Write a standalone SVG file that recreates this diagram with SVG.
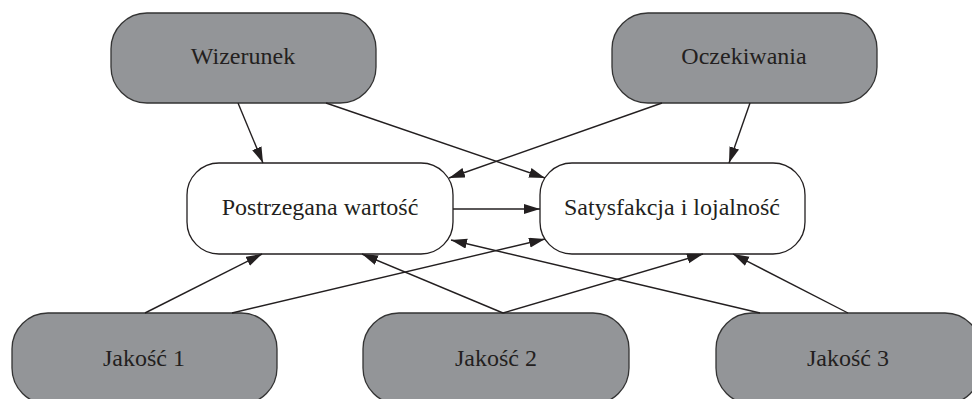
<svg xmlns="http://www.w3.org/2000/svg" width="972" height="399" viewBox="0 0 972 399">
<style>
.dark{fill:#939598;stroke:#333;stroke-width:1.3}
.light{fill:#fff;stroke:#231f20;stroke-width:1.3}
text{font-family:"Liberation Serif","Times New Roman",serif;font-size:24px;fill:#231f20;text-anchor:middle}
.c line{stroke:#231f20;stroke-width:1.4;marker-end:url(#ah)}
</style>
<defs>
<marker id="ah" markerUnits="userSpaceOnUse" markerWidth="17" markerHeight="11" refX="16" refY="5" orient="auto">
<path d="M0,0 L16,5 L0,10 Z" fill="#231f20"/>
</marker>
</defs>
<rect width="972" height="399" fill="#fff"/>
<g id="wizerunek"><rect class="dark" x="111" y="13" width="265" height="90" rx="36"/><text x="243" y="64">Wizerunek</text></g>
<g id="oczekiwania"><rect class="dark" x="612" y="13" width="265" height="90" rx="36"/><text x="744" y="64">Oczekiwania</text></g>
<g id="wartosc"><rect class="light" x="187" y="163" width="266" height="91" rx="32"/><text x="320" y="215">Postrzegana wartość</text></g>
<g id="satysfakcja"><rect class="light" x="540" y="163" width="265" height="91" rx="32"/><text x="672" y="215">Satysfakcja i lojalność</text></g>
<g id="jakosc1"><rect class="dark" x="12" y="313" width="265" height="91" rx="36"/><text x="144" y="366">Jakość 1</text></g>
<g id="jakosc2"><rect class="dark" x="363" y="313" width="266" height="91" rx="36"/><text x="496" y="366">Jakość 2</text></g>
<g id="jakosc3"><rect class="dark" x="716" y="313" width="265" height="91" rx="36"/><text x="848" y="366">Jakość 3</text></g>
<g id="connectors" class="c">
<line x1="238" y1="103" x2="263" y2="163"/>
<line x1="326" y1="103" x2="545" y2="178"/>
<line x1="662" y1="103" x2="449" y2="178"/>
<line x1="750" y1="103" x2="729" y2="163"/>
<line x1="453" y1="209" x2="540" y2="209"/>
<line x1="145" y1="313" x2="262" y2="254"/>
<line x1="232" y1="313" x2="545" y2="239"/>
<line x1="503" y1="313" x2="362" y2="254"/>
<line x1="503" y1="313" x2="703" y2="254"/>
<line x1="760" y1="313" x2="451" y2="240"/>
<line x1="848" y1="313" x2="733" y2="254"/>
</g>
</svg>
